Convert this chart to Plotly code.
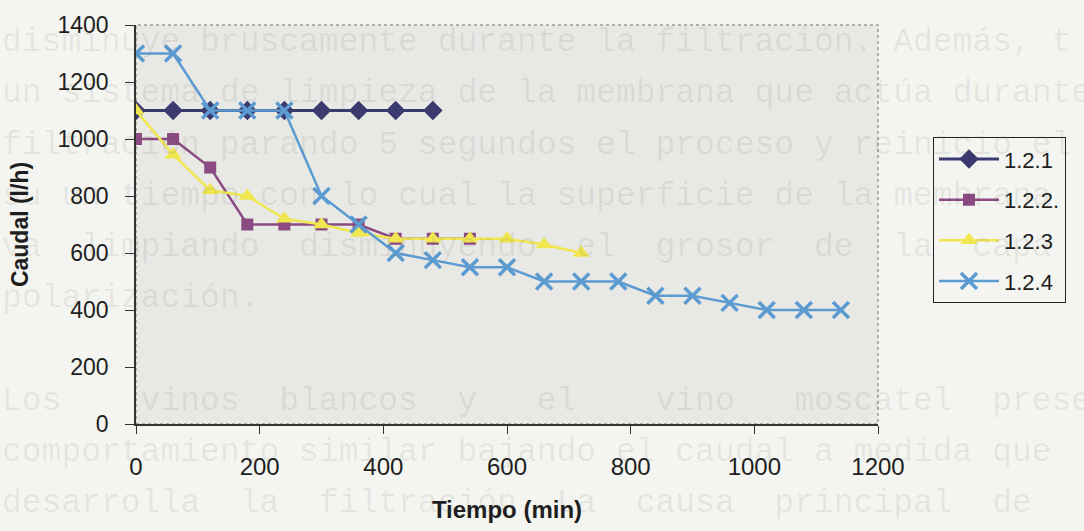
import plotly.graph_objects as go

# ---- data ----
t_121 = [0, 60, 120, 180, 240, 300, 360, 420, 480]
q_121 = [1100, 1100, 1100, 1100, 1100, 1100, 1100, 1100, 1100]

t_122 = [0, 60, 120, 180, 240, 300, 360, 420, 480, 540]
q_122 = [1000, 1000, 900, 700, 700, 700, 700, 650, 650, 650]

t_123 = [0, 60, 120, 180, 240, 300, 360, 420, 480, 540, 600, 660, 720]
q_123 = [1100, 945, 820, 800, 720, 700, 670, 650, 650, 650, 650, 630, 600]

t_124 = [0, 60, 120, 180, 240, 300, 360, 420, 480, 540, 600, 660, 720, 780,
         840, 900, 960, 1020, 1080, 1140]
q_124 = [1300, 1300, 1100, 1100, 1100, 800, 700, 600, 575, 550, 550, 500, 500, 500,
         450, 450, 425, 400, 400, 400]

series_names = ["1.2.1", "1.2.2.", "1.2.3", "1.2.4"]
x_ticks = [0, 200, 400, 600, 800, 1000, 1200]
y_ticks = [0, 200, 400, 600, 800, 1000, 1200, 1400]

# faint bleed-through text of the scanned page behind the chart
bg_lines = [
    "disminuye bruscamente durante la filtración. Además, t",
    "un sistema de limpieza de la membrana que actúa durante",
    "filtración parando 5 segundos el proceso y reinicio el",
    "su un tiempo con lo cual la superficie de la membrana",
    "va  limpiando  disminuyendo  el  grosor  de  la  capa",
    "polarización.",
    "",
    "Los    vinos  blancos  y   el    vino   moscatel  presentan",
    "comportamiento similar bajando el caudal a medida que",
    "desarrolla  la  filtración. La  causa  principal  de",
]

FONT = "Arial, Liberation Sans, sans-serif"
colors = ["#3b3a6e", "#8b4a82", "#f0e650", "#5b9bd1"]

fig = go.Figure()
fig.add_trace(go.Scatter(x=t_121, y=q_121, name=series_names[0], legendgroup="g1",
                         mode="lines+markers",
                         line=dict(color=colors[0], width=3),
                         marker=dict(symbol="diamond", size=15, color=colors[0])))
fig.add_trace(go.Scatter(x=t_122, y=q_122, name=series_names[1], legendgroup="g2",
                         mode="lines+markers",
                         line=dict(color=colors[1], width=2.5),
                         marker=dict(symbol="square", size=12, color=colors[1])))
fig.add_trace(go.Scatter(x=t_123, y=q_123, name=series_names[2], legendgroup="g3",
                         mode="lines+markers",
                         line=dict(color=colors[2], width=2.5),
                         marker=dict(symbol="triangle-up", size=15, color=colors[2])))
fig.add_trace(go.Scatter(x=t_124, y=q_124, name=series_names[3], legendgroup="g4",
                         mode="lines+markers",
                         line=dict(color=colors[3], width=2.5),
                         marker=dict(symbol="x-thin", size=16,
                                     line=dict(color=colors[3], width=3.5))))

annotations = []
for i, s in enumerate(bg_lines):
    if not s:
        continue
    annotations.append(dict(
        text=s, xref="paper", yref="paper",
        x=(0 - 136) / 742, y=(424 - (37 + 52 * i)) / 405,
        xanchor="left", yanchor="middle", showarrow=False,
        font=dict(family="Liberation Mono, Courier New, monospace", size=33,
                  color="rgba(70,70,70,0.09)")))

fig.update_layout(
    width=1084, height=531,
    margin=dict(l=136, r=206, t=19, b=107),
    paper_bgcolor="#f4f5f0",
    plot_bgcolor="#e8e9e4",
    font=dict(family=FONT, color="#1e1e1e"),
    showlegend=True,
    legend=dict(x=(933 - 136) / 742, y=(424 - 133) / 405, xanchor="left", yanchor="top",
                bgcolor="rgba(0,0,0,0)", bordercolor="#222", borderwidth=1,
                font=dict(family=FONT, size=22, color="#1e1e1e"),
                traceorder="grouped", tracegroupgap=9, itemwidth=60),
    xaxis=dict(range=[0, 1200], tickvals=x_ticks, ticks="outside", ticklen=8,
               tickcolor="#333", showgrid=False, zeroline=False,
               showline=True, linecolor="#333", linewidth=2,
               tickfont=dict(size=24, family=FONT), ticklabelstandoff=12,
               title=dict(text="<b>Tiempo (min)</b>", font=dict(size=24, family=FONT),
                          standoff=22)),
    yaxis=dict(range=[0, 1400], tickvals=y_ticks, ticks="outside", ticklen=9,
               tickcolor="#333", showgrid=False, zeroline=False,
               showline=True, linecolor="#333", linewidth=1.5,
               tickfont=dict(size=23, family=FONT), ticklabelstandoff=12,
               title=dict(text="<b>Caudal (l/h)</b>", font=dict(size=23, family=FONT),
                          standoff=22)),
    xaxis2=dict(overlaying="x", anchor="y", side="bottom", range=[0, 1200],
                tickvals=x_ticks, ticks="inside", ticklen=8, tickcolor="#333",
                showticklabels=False, showgrid=False, zeroline=False, showline=False),
    yaxis2=dict(overlaying="y", anchor="x", side="left", range=[0, 1400],
                tickvals=y_ticks, ticks="inside", ticklen=7, tickcolor="#333",
                showticklabels=False, showgrid=False, zeroline=False, showline=False),
    shapes=[dict(type="rect", xref="paper", yref="paper", x0=0, x1=1, y0=0, y1=1,
                 line=dict(color="#9a9a9a", width=1.5, dash="dot"), layer="below")],
    annotations=annotations,
)

fig.write_html("out.html")
